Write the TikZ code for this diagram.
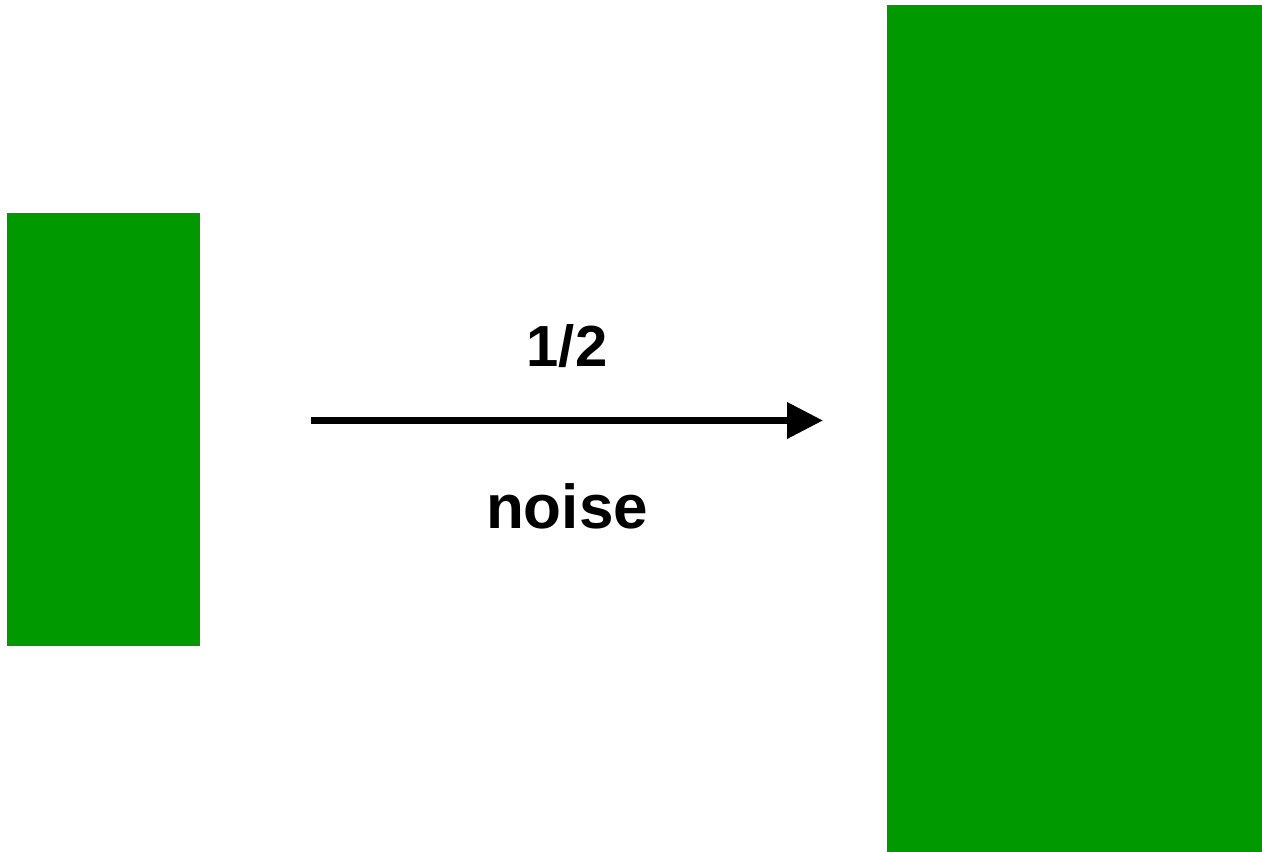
\documentclass[tikz,border=0pt]{standalone}
\usepackage{fontspec}
\setmainfont{Liberation Sans}
\usetikzlibrary{arrows.meta}
\definecolor{boxgreen}{HTML}{009900}
\begin{document}
\begin{tikzpicture}[x=1pt,y=-1pt,
  greenbox/.style={fill=boxgreen,draw=none,inner sep=0pt,outer sep=0pt,anchor=north west},
  lbl/.style={font=\bfseries\fontsize{58}{70}\selectfont,inner sep=0pt,anchor=base}]
\useasboundingbox[fill=white] (0,0) rectangle (1262,852);
\node[greenbox,minimum width=193pt,minimum height=433pt] (left) at (7,213) {};
\node[greenbox,minimum width=375pt,minimum height=847pt] (right) at (887,5) {};
\coordinate (a) at (311,420.5);
\coordinate (b) at (823,420.5);
\draw[line width=7pt,-{Triangle[length=36pt,width=35pt]}] (a) -- (b);
\node[lbl] (half) at (567,366) {1/2};
\node[lbl,font=\bfseries\fontsize{62}{74}\selectfont] (noise) at (567,528) {noise};
\end{tikzpicture}
\end{document}
